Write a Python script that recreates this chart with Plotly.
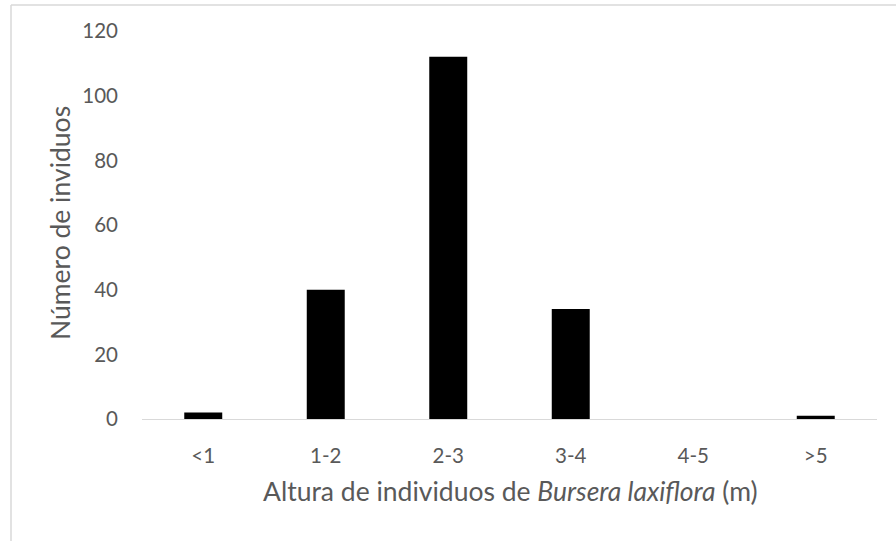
import plotly.graph_objects as go

categories = ["<1", "1-2", "2-3", "3-4", "4-5", ">5"]
counts = [2, 40, 112, 34, 0, 1]
y_ticks = [0, 20, 40, 60, 80, 100, 120]

W, H = 896, 541
L, R, T, B = 142, 19, 31, 122
pw, ph = W - L - R, H - T - B

font_family = "Lato, 'Open Sans', sans-serif"
grey = "#595959"

fig = go.Figure(go.Bar(x=categories, y=counts, marker=dict(color="#000000", line=dict(width=0))))

def px_x(x):
    return (x - L) / pw

def px_y(y):
    return 1 - (y - T) / ph

fig.update_layout(
    width=W, height=H,
    margin=dict(l=L, r=R, t=T, b=B),
    paper_bgcolor="white", plot_bgcolor="white",
    bargap=0.69,
    showlegend=False,
    font=dict(family=font_family, color=grey),
    xaxis=dict(
        showgrid=False, showline=True, linecolor="#d9d9d9", linewidth=1.3,
        ticks="", tickfont=dict(size=20.5, color=grey), ticklabelstandoff=18,
        zeroline=False,
    ),
    yaxis=dict(
        range=[0, 120], tickvals=y_ticks, showgrid=False, showline=False,
        zeroline=False, ticks="", tickfont=dict(size=20.5, color=grey),
        ticklabelstandoff=23,
    ),
    annotations=[
        dict(text="Altura de individuos de <i>Bursera laxiflora</i> (m)",
             xref="paper", yref="paper", x=px_x(510), y=px_y(491),
             showarrow=False, font=dict(size=26.5, color=grey),
             xanchor="center", yanchor="middle"),
        dict(text="Número de inviduos", textangle=-90,
             xref="paper", yref="paper", x=px_x(60), y=px_y(223),
             showarrow=False, font=dict(size=26.5, color=grey),
             xanchor="center", yanchor="middle"),
    ],
    shapes=[
        dict(type="line", xref="paper", yref="paper",
             x0=px_x(11), x1=px_x(11), y0=px_y(5), y1=px_y(700),
             line=dict(color="#d9d9d9", width=1.5)),
        dict(type="line", xref="paper", yref="paper",
             x0=px_x(11), x1=px_x(1100), y0=px_y(5), y1=px_y(5),
             line=dict(color="#d9d9d9", width=1.5)),
    ],
)

fig.write_html("out.html", config={"displayModeBar": False},
               post_script="document.body.style.margin='0';document.body.style.overflow='hidden';")
